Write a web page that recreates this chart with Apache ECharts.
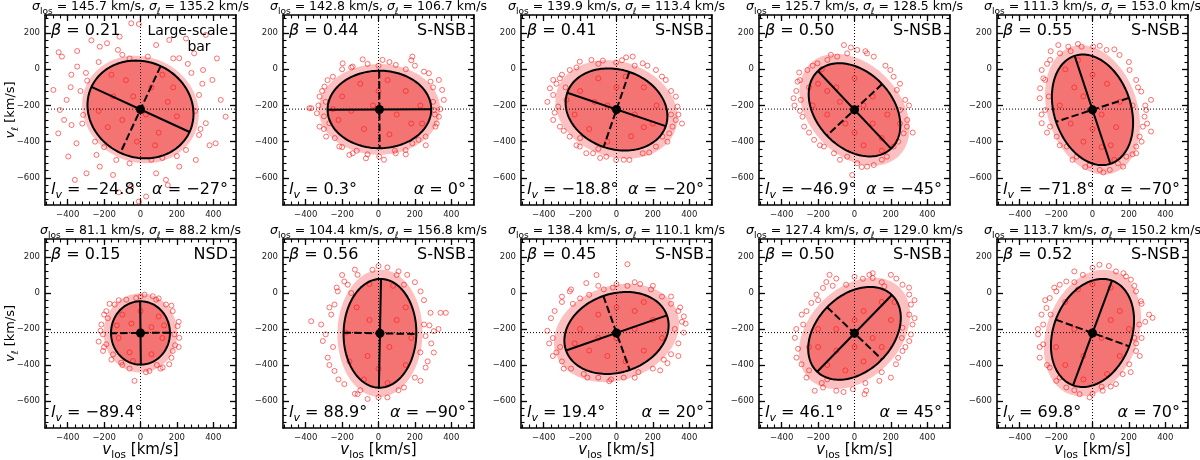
<!DOCTYPE html>
<html><head><meta charset="utf-8">
<script src="https://cdn.jsdelivr.net/npm/echarts@6/dist/echarts.min.js"></script>
<style>html,body{margin:0;padding:0;background:#fff}#c{width:1200px;height:460px}</style>
</head><body><div id="c"></div><script>
// ---------------- data ----------------
const regionLabel = ['Large-scale bar','S-NSB','S-NSB','S-NSB','S-NSB','NSD','S-NSB','S-NSB','S-NSB','S-NSB'];
const sigmaLos = [145.7,142.8,139.9,125.7,111.3,81.1,104.4,138.4,127.4,113.7];
const sigmaL   = [135.2,106.7,113.4,128.5,153.0,88.2,156.8,110.1,129.0,150.2];
const beta     = [0.21,0.44,0.41,0.50,0.55,0.15,0.56,0.45,0.50,0.52];
const lv       = [-24.8,0.3,-18.8,-46.9,-71.8,-89.4,88.9,19.4,46.1,69.8];
const alphaDeg = [-27,0,-20,-45,-70,null,-90,20,45,70];
const meanVlos = [0,5,0,0,0,0,8,0,0,0];
const meanVl   = [-222,-222,-222,-224,-224,-222,-224,-222,-224,-222];
const semiMajor = [297,285,286,294,314,176,302,294,296,310];   // 2-sigma ellipse
const semiMinor = [264,214,219,208,211,162,200,218,209,215];
const cloudScale = [1.1,1.17,1.2,1.2,1.17,1.25,1.17,1.2,1.2,1.17]; // outer envelope of dense cloud / ellipse
const refVlos = 0, refVl = -220;
const xTicks = [-400,-200,0,200,400];
const yTicks = [-600,-400,-200,0,200];
const xMinorTicks = [-520,-480,-440,-400,-360,-320,-280,-240,-200,-160,-120,-80,-40,0,40,80,120,160,200,240,280,320,360,400,440,480,520];
const yMinorTicks = [-720,-680,-640,-600,-560,-520,-480,-440,-400,-360,-320,-280,-240,-200,-160,-120,-80,-40,0,40,80,120,160,200,240,280];
const X_MIN = -525, X_MAX = 525, Y_MIN = -750, Y_MAX = 300;

const stars1 = [[-450,94],[-432,70],[-348,101],[-348,15],[-479,-114],[-384,-99],[-406,-169],[-293,-63],[-224,125],[-184,144],[-124,107],[-51,254],[-9,250],[-115,180],[86,134],[158,162],[213,61],[295,88],[359,190],[344,-4],[395,-59],[322,-142],[441,-169],[468,-262],[359,-298],[322,-363],[413,-409],[250,-446],[304,-501],[213,-538],[140,-611],[86,-575],[31,-703],[-9,-731],[-51,-648],[-151,-584],[-224,-538],[-297,-575],[-361,-611],[-397,-482],[-352,-409],[-452,-354],[-379,-308],[-315,-252],[-443,-225],[-242,-473],[-133,-501],[-300,-20],[260,30],[-60,60],[40,70],[300,-230],[-200,-430],[120,-490],[-330,-120],[-320,-300],[-250,-400],[-60,-520],[60,-500],[200,-480],[330,-330],[340,-80],[280,-20],[180,60],[-100,80],[-230,40],[-380,-30],[-420,-280],[380,-420],[420,60],[-270,160],[250,170],[150,-640],[-120,-680],[-150,-150],[-80,-60],[60,-100],[150,-180],[200,-260],[100,-350],[-20,-400],[-180,-320],[-230,-230],[30,-250],[-100,-280],[120,-30],[-40,-150],[180,-100],[-160,-30],[80,-420]];
const stars2 = [[186,70],[22,52],[-87,55],[-197,33],[277,-22],[332,-59],[350,-114],[359,-169],[332,-262],[313,-317],[259,-372],[186,-409],[95,-464],[4,-483],[-69,-492],[-142,-464],[-215,-427],[-288,-372],[-324,-317],[-339,-243],[-370,-215],[-324,-151],[-297,-96],[-251,-41],[-142,15],[95,24],[286,-68],[304,-225],[-270,-298],[-160,-473],[149,-446],[250,-13],[-290,-180],[300,-180],[-150,10],[150,0],[-240,-380],[220,-390],[0,20],[-300,-260],[310,-250],[90,-450],[-120,-450],[-330,-200],[-310,-120],[-280,-60],[-200,0],[-60,30],[60,40],[200,20],[300,-100],[340,-220],[320,-300],[260,-420],[150,-470],[30,-500],[-60,-470],[-200,-430],[-300,-330],[180,50],[-380,-215],[-200,-150],[-100,-80],[50,-60],[150,-120],[230,-200],[180,-300],[60,-360],[-80,-330],[-220,-280],[-30,-200],[100,-250],[-150,-230],[240,-300],[0,-120],[-250,-220]];
const stars3 = [[-366,-105],[-348,-142],[-311,-50],[-257,-4],[-202,42],[-138,52],[-75,48],[-2,37],[53,66],[89,70],[144,33],[217,-4],[271,-59],[326,-151],[335,-206],[326,-280],[308,-317],[253,-372],[217,-427],[144,-464],[71,-501],[-2,-501],[-56,-483],[-129,-464],[-202,-427],[-257,-372],[-311,-317],[-348,-280],[-321,-206],[-275,-169],[-166,-464],[290,-354],[-348,-59],[-280,-100],[300,-250],[100,20],[-100,-440],[-200,-380],[-330,-80],[-300,-30],[-220,10],[-100,30],[30,50],[170,20],[250,-40],[300,-120],[340,-250],[280,-400],[180,-460],[40,-500],[-90,-490],[-220,-420],[-290,-340],[-340,-240],[360,-300],[-380,-180],[-200,-120],[-100,-50],[50,-40],[150,-100],[220,-200],[200,-300],[80,-370],[-50,-400],[-150,-330],[-230,-250],[-50,-200],[100,-250],[0,-100],[-120,-180],[150,-320]];
const stars4 = [[-304,-18],[-313,-68],[-335,-160],[-295,-169],[-286,-262],[-277,-317],[-222,-390],[-168,-427],[-113,-464],[-40,-483],[15,-519],[69,-538],[106,-529],[178,-483],[215,-427],[270,-354],[288,-317],[251,-225],[279,-169],[233,-114],[215,-41],[197,-4],[106,70],[69,88],[15,107],[-40,88],[-95,70],[-149,52],[-204,33],[-259,-4],[-58,134],[-13,-584],[-250,-100],[250,-300],[-180,0],[150,-450],[-300,-60],[-320,-120],[-300,-230],[-250,-350],[-190,-420],[-80,-500],[40,-540],[150,-500],[240,-400],[290,-280],[300,-200],[250,-80],[170,20],[60,100],[-20,120],[-130,80],[-230,20],[-330,-200],[320,-350],[-200,-80],[-100,-100],[0,-50],[100,-150],[180,-250],[150,-380],[50,-420],[-50,-300],[-150,-250],[-230,-200],[50,-200],[-80,-180],[100,-300],[-150,-120],[0,-350]];
const stars5 = [[-188,134],[-133,125],[-60,125],[4,125],[77,107],[149,79],[204,-4],[240,-59],[268,-123],[322,-169],[295,-225],[277,-317],[259,-372],[240,-427],[186,-483],[168,-538],[95,-556],[40,-556],[-15,-529],[-87,-483],[-142,-427],[-197,-372],[-233,-317],[-279,-298],[-260,-225],[-288,-105],[-260,-59],[-279,-4],[-233,52],[-179,88],[322,-344],[286,-262],[240,-464],[-240,-150],[220,-200],[-120,100],[120,-500],[-230,100],[-250,30],[-270,-50],[-290,-160],[-280,-250],[-250,-350],[-180,-420],[-110,-500],[-40,-540],[60,-570],[140,-520],[220,-470],[270,-400],[300,-300],[290,-200],[250,-100],[200,40],[120,110],[40,130],[-80,140],[-150,0],[-80,50],[0,-30],[80,-80],[150,-180],[130,-320],[50,-430],[-50,-400],[-120,-300],[-180,-200],[-50,-150],[50,-250],[100,-420],[-100,-100],[0,-330]];
const stars6 = [[22,-9],[67,-18],[-24,-28],[86,-37],[-142,-64],[-188,-101],[-215,-175],[-206,-230],[-188,-285],[-151,-341],[-106,-387],[-42,-378],[-33,-488],[49,-433],[122,-414],[158,-396],[177,-322],[213,-249],[204,-184],[177,-101],[140,-64],[-78,-37],[-206,-322],[186,-230],[-180,-140],[190,-290],[-100,-400],[90,-400],[-170,-60],[-200,-120],[-220,-210],[-200,-300],[-160,-370],[-60,-420],[30,-440],[110,-420],[170,-360],[210,-300],[210,-160],[170,-70],[100,-30],[0,-20],[-120,-40],[-230,-270],[-100,-120],[0,-100],[100,-130],[120,-250],[60,-340],[-60,-330],[-120,-250],[0,-220],[-50,-170],[60,-190],[-130,-180],[130,-180]];
const stars7 = [[49,142],[-33,129],[-115,101],[-188,64],[158,101],[140,46],[231,9],[286,-110],[341,-110],[370,-110],[259,-239],[304,-331],[259,-414],[231,-488],[140,-525],[49,-580],[-60,-589],[-115,-562],[-188,-506],[-242,-433],[-279,-359],[-306,-267],[-315,-175],[-370,-157],[-260,-120],[-242,-64],[-224,9],[-169,46],[304,-212],[250,-175],[-250,-300],[230,-330],[100,100],[-100,-540],[-200,100],[-130,130],[0,150],[110,120],[200,60],[250,-40],[280,-180],[290,-280],[270,-380],[200,-470],[110,-540],[0,-580],[-130,-560],[-220,-480],[-270,-400],[-290,-230],[-270,-80],[-230,30],[330,-200],[-150,0],[-50,50],[80,40],[150,-80],[180,-250],[150,-400],[50,-500],[-80,-480],[-160,-380],[-180,-220],[-50,-150],[60,-300],[-60,-350],[100,-150],[-120,-80],[0,-420]];
const stars8 = [[-110,100],[60,160],[-166,55],[-257,9],[-300,-50],[-340,-100],[-380,-210],[-350,-250],[-330,-330],[-300,-380],[-250,-420],[-180,-450],[-100,-470],[-30,-480],[40,-470],[120,-440],[200,-420],[260,-370],[300,-340],[340,-280],[370,-220],[360,-160],[340,-100],[300,-60],[250,-20],[190,20],[130,50],[60,40],[-20,30],[-70,20],[-150,-10],[-240,-60],[280,-390],[370,-130],[-310,-300],[320,-200],[-300,-20],[-250,20],[-100,40],[0,50],[100,60],[200,40],[300,-20],[350,-80],[380,-170],[340,-350],[240,-430],[100,-470],[-40,-490],[-160,-470],[-290,-420],[-350,-350],[-370,-280],[-360,-140],[-200,-30],[-200,-200],[-100,-120],[0,-80],[100,-100],[200,-150],[250,-250],[150,-320],[50,-380],[-50,-350],[-150,-320],[-230,-280],[0,-250],[100,-200],[-100,-250],[150,-50]];
const stars9 = [[-137,101],[-155,61],[82,101],[100,83],[200,101],[264,46],[301,-9],[310,-64],[301,-120],[319,-175],[301,-267],[264,-322],[228,-396],[200,-470],[137,-488],[64,-543],[55,-562],[-9,-534],[-100,-543],[-173,-525],[-219,-543],[-264,-470],[-291,-396],[-319,-359],[-328,-249],[-282,-175],[-264,-101],[-237,-55],[-209,-9],[-173,28],[-46,46],[46,79],[164,37],[264,-193],[-250,-300],[260,-250],[150,60],[-150,-480],[-100,80],[0,90],[100,110],[230,80],[300,30],[330,-40],[330,-140],[310,-230],[280,-300],[240,-360],[150,-440],[60,-500],[-60,-550],[-180,-500],[-250,-430],[-310,-310],[-320,-200],[-290,-120],[-200,-40],[-120,40],[-200,-300],[-150,-400],[-50,-430],[0,-300],[-100,-200],[50,-100],[150,-50],[200,-150],[100,-250],[150,-300],[-200,-200],[0,-150],[-100,-320],[220,-50],[50,-380]];
const stars10 = [[38,157],[-53,101],[-144,64],[-180,46],[129,120],[184,92],[211,74],[239,9],[266,-46],[311,-120],[330,-138],[257,-175],[230,-249],[239,-322],[202,-396],[166,-451],[129,-506],[56,-543],[-16,-580],[-71,-562],[-144,-525],[-199,-488],[-235,-414],[-290,-359],[-271,-285],[-299,-230],[-271,-175],[-253,-83],[-235,-28],[-199,9],[-230,-120],[240,-280],[-100,60],[50,-520],[-100,120],[0,140],[90,150],[170,110],[230,40],[270,-60],[290,-160],[270,-250],[260,-350],[210,-440],[100,-520],[0,-560],[-100,-540],[-180,-470],[-250,-400],[-290,-300],[-300,-200],[-280,-120],[-260,-40],[-210,30],[-150,-50],[-80,20],[0,50],[100,30],[150,-100],[200,-200],[150,-350],[80,-450],[-50,-480],[-150,-400],[-200,-300],[-100,-200],[50,-250],[-50,-350],[100,-150]];
const starsByPanel = [stars1,stars2,stars3,stars4,stars5,stars6,stars7,stars8,stars9,stars10];

// ---------------- layout & style ----------------
const F = "'DejaVu Sans', sans-serif";
const colLeft = [45, 283, 521, 759, 997];
const rowTop = [15, 239];
const rowH = [190, 189];
const PW = 191;
const minus = s => String(s).replace(/-/g, '\u2212');

const grids = [], xAxes = [], yAxes = [], series = [], graphics = [];
const frame = {color:'#000', width:1.6};
const majTick = {color:'#000', width:1.3};
const minTick = {color:'#000', width:1.1};

for (let i = 0; i < 10; i++) {
  const col = i % 5, row = Math.floor(i / 5);
  const L = colLeft[col], T = rowTop[row], H = rowH[row];
  grids.push({left:L, top:T, width:PW, height:H});
  const bx = {type:'value', gridIndex:i, min:X_MIN, max:X_MAX, splitLine:{show:false}};
  const by = {type:'value', gridIndex:i, min:Y_MIN, max:Y_MAX, splitLine:{show:false}};
  xAxes.push(
    {...bx, position:'bottom', axisLine:{show:true,onZero:false,lineStyle:frame},
      axisTick:{show:true,inside:true,length:6,customValues:xTicks,lineStyle:majTick},
      axisLabel:{show:true,customValues:xTicks,formatter:minus,fontSize:8.5,fontFamily:F,color:'#222',margin:5}},
    {...bx, position:'bottom', axisLine:{show:false,onZero:false},
      axisTick:{show:true,inside:true,length:3.5,customValues:xMinorTicks,lineStyle:minTick}, axisLabel:{show:false}},
    {...bx, position:'top', axisLine:{show:true,onZero:false,lineStyle:frame},
      axisTick:{show:true,inside:true,length:6,customValues:xTicks,lineStyle:majTick}, axisLabel:{show:false}},
    {...bx, position:'top', axisLine:{show:false,onZero:false},
      axisTick:{show:true,inside:true,length:3.5,customValues:xMinorTicks,lineStyle:minTick}, axisLabel:{show:false}}
  );
  yAxes.push(
    {...by, position:'left', axisLine:{show:true,onZero:false,lineStyle:frame},
      axisTick:{show:true,inside:true,length:6,customValues:yTicks,lineStyle:majTick},
      axisLabel:{show:true,customValues:yTicks,formatter:minus,fontSize:8.5,fontFamily:F,color:'#222',margin:5}},
    {...by, position:'left', axisLine:{show:false,onZero:false},
      axisTick:{show:true,inside:true,length:3.5,customValues:yMinorTicks,lineStyle:minTick}, axisLabel:{show:false}},
    {...by, position:'right', axisLine:{show:true,onZero:false,lineStyle:frame},
      axisTick:{show:true,inside:true,length:6,customValues:yTicks,lineStyle:majTick}, axisLabel:{show:false}},
    {...by, position:'right', axisLine:{show:false,onZero:false},
      axisTick:{show:true,inside:true,length:3.5,customValues:yMinorTicks,lineStyle:minTick}, axisLabel:{show:false}}
  );
  const xi = 4 * i, yi = 4 * i;
  const th = lv[i] * Math.PI / 180, a = semiMajor[i], b = semiMinor[i];
  const cx = meanVlos[i], cy = meanVl[i];
  const ellPt = (t, s) => [cx + s*a*Math.cos(t)*Math.cos(th) - s*b*Math.sin(t)*Math.sin(th),
                           cy + s*a*Math.cos(t)*Math.sin(th) + s*b*Math.sin(t)*Math.cos(th)];
  const ellPoly = (api, s) => { const p = []; for (let k = 0; k < 144; k++) p.push(api.coord(ellPt(2*Math.PI*k/144, s))); return p; };
  // dense core fill + reference dotted lines
  series.push({type:'custom', xAxisIndex:xi, yAxisIndex:yi, z:1, clip:true, silent:true,
    data:[[cx, cy]],
    renderItem:(p, api) => {
      const v0 = api.coord([refVlos, Y_MIN]), v1 = api.coord([refVlos, Y_MAX]);
      const h0 = api.coord([X_MIN, refVl]), h1 = api.coord([X_MAX, refVl]);
      return {type:'group', children:[
        {type:'polygon', shape:{points:ellPoly(api, cloudScale[i])}, style:{fill:'rgba(245,45,45,0.3)', stroke:null}},
        {type:'polygon', shape:{points:ellPoly(api, 1)}, style:{fill:'rgba(235,25,25,0.45)', stroke:null}},
        {type:'line', shape:{x1:v0[0],y1:v0[1],x2:v1[0],y2:v1[1]}, style:{stroke:'#000',lineWidth:1,lineDash:[1,2]}},
        {type:'line', shape:{x1:h0[0],y1:h0[1],x2:h1[0],y2:h1[1]}, style:{stroke:'#000',lineWidth:1,lineDash:[1,2]}}
      ]};
    }});
  series.push({type:'scatter', xAxisIndex:xi, yAxisIndex:yi, z:2, silent:true,
    data: starsByPanel[i], symbol:'circle', symbolSize:5,
    itemStyle:{color:'rgba(0,0,0,0)', borderColor:'rgba(255,20,20,0.75)', borderWidth:1}});
  series.push({type:'custom', xAxisIndex:xi, yAxisIndex:yi, z:3, clip:true, silent:true,
    data:[[cx, cy]],
    renderItem:(p, api) => {
      const m0 = api.coord(ellPt(0,1)), m1 = api.coord(ellPt(Math.PI,1));
      const n0 = api.coord(ellPt(Math.PI/2,1)), n1 = api.coord(ellPt(3*Math.PI/2,1));
      const c = api.coord([cx, cy]);
      return {type:'group', children:[
        {type:'polygon', shape:{points:ellPoly(api, 1)}, style:{fill:null, stroke:'#000', lineWidth:2}},
        {type:'line', shape:{x1:m0[0],y1:m0[1],x2:m1[0],y2:m1[1]}, style:{stroke:'#000',lineWidth:2}},
        {type:'line', shape:{x1:n0[0],y1:n0[1],x2:n1[0],y2:n1[1]}, style:{stroke:'#000',lineWidth:2,lineDash:[7.4,3.2]}},
        {type:'circle', shape:{cx:c[0], cy:c[1], r:4.5}, style:{fill:'#000'}}
      ]};
    }});

  // texts
  const R = (size, sub) => ({
    m:{fontFamily:F,fontSize:size,fontStyle:'italic',lineHeight:size+6,verticalAlign:'middle'},
    n:{fontFamily:F,fontSize:size,lineHeight:size+6,verticalAlign:'middle'},
    s:{fontFamily:F,fontSize:sub,lineHeight:sub,verticalAlign:'bottom'},
    si:{fontFamily:F,fontSize:sub,fontStyle:'italic',lineHeight:sub,verticalAlign:'bottom'}
  });
  const txt = (x, y, text, size, sub, align, rot) => ({type:'text', x, y, rotation:rot||0, silent:true, z:100,
    style:{text, rich:R(size, sub), fill:'#000', font:size+'px '+F, align, textAlign:align, verticalAlign:'middle', textVerticalAlign:'middle'}});
  graphics.push(txt(L + PW/2, T - 8,
    `{m|σ}{s|los}{n| = ${sigmaLos[i].toFixed(1)} km/s, }{m|σ}{si|ℓ}{n| = ${sigmaL[i].toFixed(1)} km/s}`, 12.5, 9, 'center'));
  graphics.push(txt(L + 6, T + 16, `{m|β}{n| = ${beta[i].toFixed(2)}}`, 16, 11, 'left'));
  if (regionLabel[i] === 'Large-scale bar') {
    graphics.push(txt(L + 183, T + 16, '{n|Large-scale}', 14, 10, 'right'));
    graphics.push(txt(L + 154, T + 32, '{n|bar}', 14, 10, 'center'));
  } else {
    graphics.push(txt(L + 183, T + 16, `{n|${regionLabel[i]}}`, 16, 11, 'right'));
  }
  graphics.push(txt(L + 6, T + H - 15, `{m|l}{si|v}{n| = ${minus(lv[i].toFixed(1))}°}`, 16, 11, 'left'));
  if (alphaDeg[i] !== null) {
    graphics.push(txt(L + 183, T + H - 15, `{m|α}{n| = ${minus(alphaDeg[i])}°}`, 16, 11, 'right'));
  }
  if (col === 0) graphics.push(txt(11, T + H/2, '{m|v}{si|ℓ}{n| [km/s]}', 13, 9.5, 'center', Math.PI/2));
  if (row === 1) graphics.push(txt(L + PW/2, 450, '{m|v}{s|los}{n| [km/s]}', 15, 10.5, 'center'));
}

const chart = echarts.init(document.getElementById('c'), null, {renderer:'canvas'});
chart.setOption({animation:false, backgroundColor:'#fff', grid:grids, xAxis:xAxes, yAxis:yAxes, series, graphic:graphics});
</script></body></html>
